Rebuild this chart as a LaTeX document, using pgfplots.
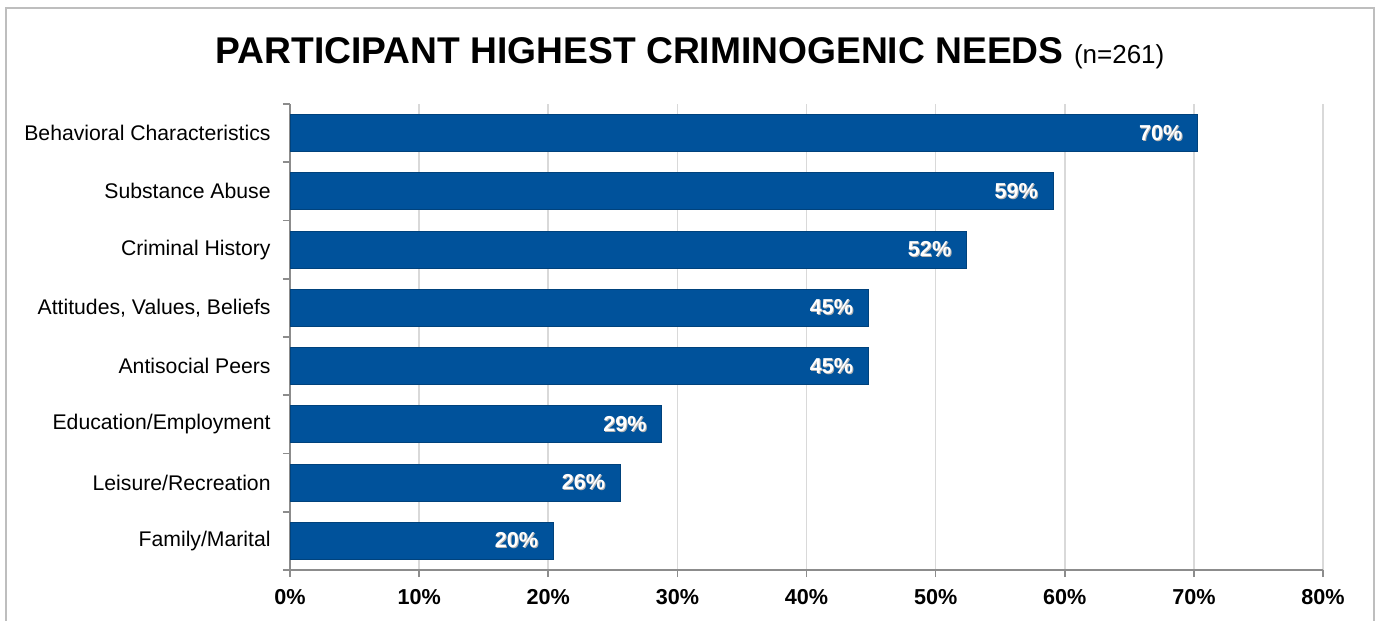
\documentclass[border=0pt]{standalone}
\usepackage{pgfplots}
\pgfplotsset{compat=1.18}
\usepackage{pgfplotstable}
\usepackage{fontspec}
\setmainfont{Liberation Sans}
\definecolor{barblue}{RGB}{0,82,155}
\definecolor{axisgray}{RGB}{140,140,140}
\definecolor{gridgray}{RGB}{217,217,217}
\definecolor{framegray}{RGB}{190,190,190}
\newcommand{\shadowtext}[1]{\makebox[0pt][l]{\hspace{0.5bp}\raisebox{-0.5bp}{\color{black!30}#1}}{\color{white}#1}}
\pgfplotstableread{
y x lab
0 20.4 20
1 25.6 26
2 28.8 29
3 44.8 45
4 44.8 45
5 52.4 52
6 59.1 59
7 70.3 70
}\needs
\begin{document}
\begin{tikzpicture}
\useasboundingbox (0bp,0bp) rectangle (690bp,310.5bp);
\begin{scope}[x=0.5bp,y=0.5bp]
\draw[framegray, line width=1bp] (6,0) -- (6,613) -- (1374,613) -- (1374,0);
\node[anchor=base, inner sep=0pt] at (690,558) {\fontsize{18.6bp}{20bp}\selectfont\bfseries PARTICIPANT HIGHEST CRIMINOGENIC NEEDS\ \fontsize{13bp}{15bp}\selectfont\mdseries (n=261)};
\end{scope}
\begin{axis}[
  at={(145bp,25.5bp)}, anchor=south west,
  scale only axis, width=516.5bp, height=233bp,
  xbar, bar width=18.5bp,
  xmin=0, xmax=80, ymin=-0.5, ymax=7.5,
  enlargelimits=false,
  axis lines*=left,
  axis line style={axisgray, line width=0.8bp},
  xtick={0,10,...,80},
  xticklabel={\pgfmathprintnumber{\tick}\%},
  /pgf/number format/assume math mode=true,
  xticklabel style={font=\fontsize{10.8bp}{12bp}\selectfont\bfseries, inner sep=0pt, yshift=-6bp},
  xmajorgrids, grid style={gridgray, line width=0.8bp},
  tick align=outside,
  major tick length=3.5bp, minor tick length=3.5bp,
  tick style={axisgray, line width=0.8bp},
  ytick={0,...,7},
  yticklabels={Family/Marital, Leisure/Recreation, Education/Employment, Antisocial Peers, {Attitudes, Values, Beliefs}, Criminal History, Substance Abuse, Behavioral Characteristics},
  y tick style={draw=none},
  minor ytick={-0.5,0.5,...,7.5},
  minor y tick style={draw=axisgray},
  yticklabel style={font=\fontsize{10.6bp}{12bp}\selectfont, inner sep=0pt, xshift=-6bp},
  point meta=explicit symbolic,
  nodes near coords={\shadowtext{\pgfplotspointmeta\%}},
  nodes near coords style={anchor=east, xshift=-7.5bp, inner sep=0pt, font=\fontsize{10.8bp}{12bp}\selectfont\bfseries},
]
\addplot[fill=barblue, draw=barblue!80!black, line width=0.4bp] table[x=x, y=y, meta=lab] {\needs};
\end{axis}
\end{tikzpicture}
\end{document}
